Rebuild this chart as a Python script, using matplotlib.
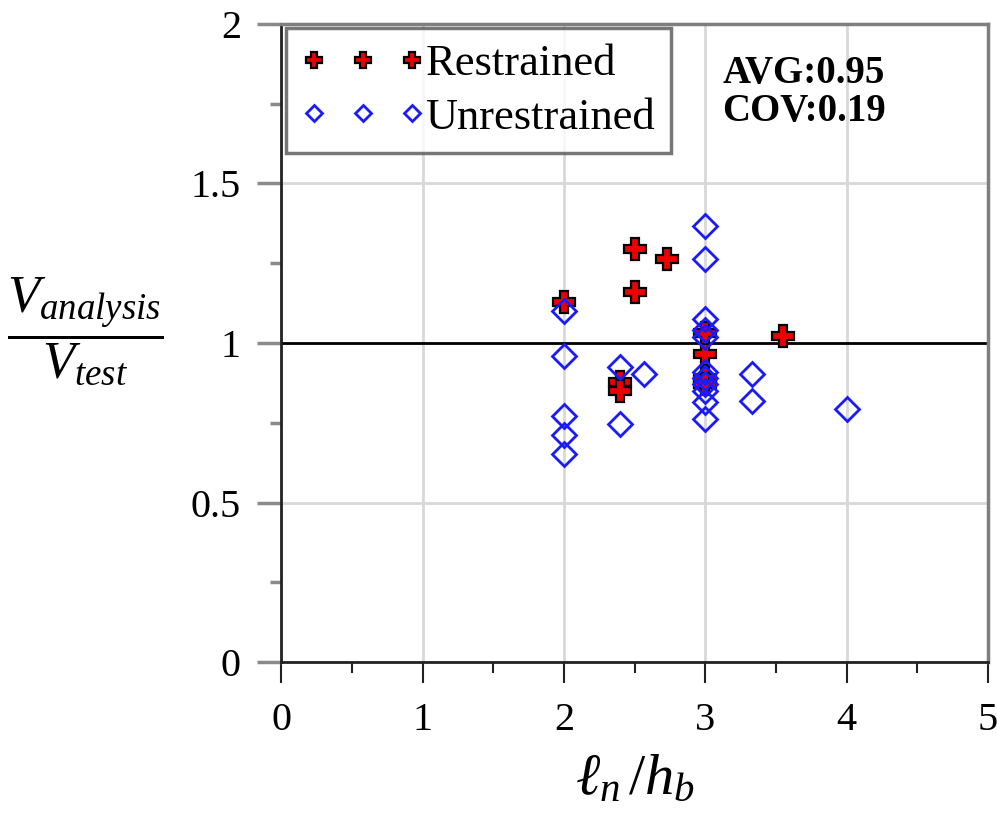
import matplotlib
matplotlib.use("Agg")
import matplotlib.pyplot as plt
from matplotlib.ticker import MultipleLocator

# Data
restrained_x = [2.0, 2.5, 2.73, 2.5, 2.4, 2.4, 3.0, 3.0, 3.0, 3.0, 3.55]
restrained_y = [1.13, 1.295, 1.262, 1.16, 0.878, 0.848, 0.965, 1.03, 0.89, 0.87, 1.022]

unrestrained_x = [2.0, 2.0, 2.0, 2.0, 2.0, 2.4, 2.4, 2.57,
                  3.0, 3.0, 3.0, 3.0, 3.0, 3.0, 3.0, 3.0, 3.0, 3.0, 3.0,
                  3.33, 3.33, 4.0]
unrestrained_y = [1.10, 0.96, 0.772, 0.712, 0.652, 0.926, 0.746, 0.902,
                  1.367, 1.264, 1.076, 1.04, 1.02, 0.91, 0.89, 0.87, 0.85, 0.814, 0.763,
                  0.902, 0.818, 0.793]

x_ticks = [0, 1, 2, 3, 4, 5]
y_ticks = [0, 0.5, 1, 1.5, 2]
y_tick_labels = ["0", "0.5", "1", "1.5", "2"]
stats_text = "AVG:0.95\nCOV:0.19"

plt.rcParams['font.family'] = ['Liberation Serif', 'DejaVu Serif']
plt.rcParams['mathtext.fontset'] = 'custom'
plt.rcParams['mathtext.it'] = 'Liberation Serif:italic'
plt.rcParams['mathtext.rm'] = 'Liberation Serif'

fig = plt.figure(figsize=(9.97, 8.13), dpi=100)
ax = fig.add_axes([0.282, 0.1857, 0.709, 0.7848])

ax.set_xlim(0, 5)
ax.set_ylim(0, 2)
ax.set_xticks(x_ticks)
ax.set_xticklabels([str(t) for t in x_ticks])
ax.set_yticks(y_ticks)
ax.set_yticklabels(y_tick_labels)
ax.xaxis.set_minor_locator(MultipleLocator(0.5))
ax.yaxis.set_minor_locator(MultipleLocator(0.25))

ax.grid(True, which='major', color='#d8d8d8', linewidth=2, zorder=0)
ax.set_axisbelow(True)

ax.axhline(1.0, color='black', linewidth=2, zorder=2)

ax.plot(restrained_x, restrained_y, linestyle='none', marker='P', markersize=16,
        markerfacecolor='#ee0000', markeredgecolor='black', markeredgewidth=1.6,
        label='Restrained', zorder=3)
ax.plot(unrestrained_x, unrestrained_y, linestyle='none', marker='D', markersize=12,
        markerfacecolor='none', markeredgecolor='#1a1aff', markeredgewidth=2,
        label='Unrestrained', zorder=4)

for side in ['top', 'right']:
    ax.spines[side].set_color('#7f7f7f')
    ax.spines[side].set_linewidth(2.5)
for side in ['left', 'bottom']:
    ax.spines[side].set_color('#222222')
    ax.spines[side].set_linewidth(2)

ax.tick_params(axis='x', which='major', direction='out', length=15, width=1.5,
               color='#222222', labelsize=29, pad=14)
ax.tick_params(axis='x', which='minor', direction='out', length=8, width=1.5, color='#222222')
ax.tick_params(axis='y', which='major', direction='out', length=17, width=2.5,
               color='#8a8a8a', labelsize=29, pad=12)
ax.tick_params(axis='y', which='minor', direction='out', length=8, width=2.5, color='#8a8a8a')

leg = ax.legend(loc='upper left', numpoints=3, fontsize=32, frameon=True, fancybox=False,
                markerscale=0.7, handlelength=2.8, handletextpad=0.0, borderpad=0.35,
                labelspacing=0.3, borderaxespad=0.1)
leg.get_frame().set_edgecolor('#555555')
leg.get_frame().set_linewidth(2.5)

ax.text(0.624, 0.893, stats_text, transform=ax.transAxes, fontsize=28,
        fontweight='bold', va='center', ha='left', linespacing=1.05)

ax.set_xlabel(r'$\ell_n\,/h_b$', fontsize=42, labelpad=11)
fig.text(0.0858, 0.593, r'$\dfrac{V_{analysis}}{V_{test}}$', fontsize=38,
         ha='center', va='center')

fig.savefig('out.png', dpi=100)
